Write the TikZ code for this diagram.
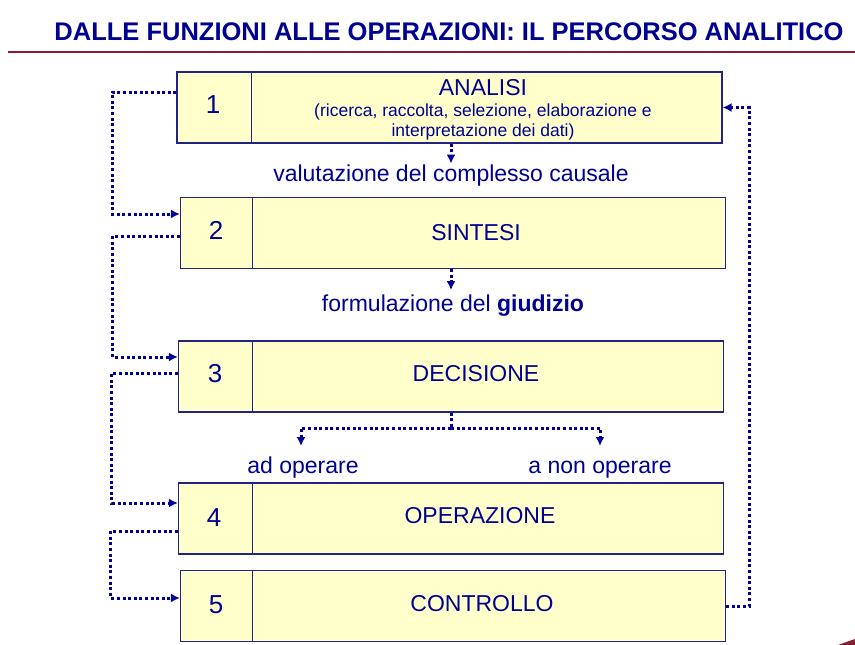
\documentclass[tikz,border=0pt]{standalone}
\usepackage{fontspec}
\setmainfont{Liberation Sans}
\usetikzlibrary{arrows.meta}
\usetikzlibrary{positioning}
\usetikzlibrary{calc}
\definecolor{navytext}{RGB}{0,0,145}
\definecolor{navyline}{RGB}{0,0,150}
\definecolor{boxedge}{RGB}{35,35,130}
\definecolor{boxfill}{RGB}{255,255,204}
\definecolor{titlered}{RGB}{140,28,50}
\begin{document}
\begin{tikzpicture}[x=1pt,y=-1pt]
		\tikzset{stepbox/.style = {shape=rectangle,draw=boxedge,fill=boxfill,line width=1.2pt,minimum width=545pt,minimum height=71pt,inner sep=0pt}}
		\tikzset{divider/.style = {draw=boxedge,line width=1.1pt}}
		\tikzset{numtext/.style = {text=navytext,anchor=base,inner sep=0pt,font=\fontsize{26}{30}\selectfont}}
		\tikzset{labtext/.style = {text=navytext,anchor=base,inner sep=0pt,font=\fontsize{23}{27}\selectfont}}
		\tikzset{flowline/.style = {draw=navyline,line width=3pt,dash pattern=on 3pt off 2.6pt}}
		\tikzset{flow/.style = {flowline,-{Latex[length=9pt,width=9pt]}}}
		\useasboundingbox (0,0) rectangle (855,645);
		% title
		\node[anchor=base,inner sep=0pt,text=navytext,font=\fontsize{25.5}{30}\selectfont\bfseries] (title) at (449,40) {DALLE FUNZIONI ALLE OPERAZIONI: IL PERCORSO ANALITICO};
		\draw[titlered,line width=2pt] (8,52) -- (855,52);
		\fill[titlered] (838,645) -- (855,639) -- (855,645) -- cycle;
		% boxes
		\node[stepbox] (b1) at (449.5,107.5) {};
		\node[stepbox] (b2) at (453,233) {};
		\node[stepbox] (b3) at (451,376.5) {};
		\node[stepbox] (b4) at (451,518.5) {};
		\node[stepbox] (b5) at (453,606) {};
		\foreach \b/\w in {b1/75,b2/73,b3/75,b4/75,b5/73}
			\draw[divider] ([xshift=\w pt]\b.north west) -- ([xshift=\w pt]\b.south west);
		% numbers
		\node[numtext] (n1) at (213,113) {1};
		\node[numtext] (n2) at (216,239) {2};
		\node[numtext] (n3) at (215,382) {3};
		\node[numtext] (n4) at (214,526) {4};
		\node[numtext] (n5) at (216,613) {5};
		% labels
		\node[labtext] (t1) at (483,95) {ANALISI};
		\node[labtext,font=\fontsize{17.5}{21}\selectfont] (t1a) at (483,116) {(ricerca, raccolta, selezione, elaborazione e};
		\node[labtext,font=\fontsize{17.5}{21}\selectfont] (t1b) at (483,136) {interpretazione dei dati)};
		\node[labtext] (t2) at (476,240) {SINTESI};
		\node[labtext] (t3) at (476,381) {DECISIONE};
		\node[labtext] (t4) at (480,523) {OPERAZIONE};
		\node[labtext] (t5) at (482,611) {CONTROLLO};
		\node[labtext] (v12) at (451,181) {valutazione del complesso causale};
		\node[labtext] (v23) at (453,311) {formulazione del \textbf{giudizio}};
		\node[labtext] (ad) at (303,473) {ad operare};
		\node[labtext] (non) at (600,473) {a non operare};
		\coordinate (fork) at (451,428);
		\coordinate (adtip) at (301,446);
		\coordinate (nontip) at (600,446);
		%edges
		\draw[flow] (b1.south -| fork) -- ++(0,20);
		\draw[flow] (b2.south -| fork) -- ++(0,21);
		\draw[flowline] (b3.south -| fork) -- (fork);
		\draw[flow] (fork) -| (adtip);
		\draw[flow] (fork) -| (nontip);
		\draw[flow] ([yshift=15.5pt]b1.west) -- ++(-64,0) |- ([yshift=19pt]b2.west);
		\draw[flow] ([yshift=-3pt]b2.west) -- ++(-67,0) |- ([yshift=19.5pt]b3.west);
		\draw[flow] ([yshift=3.5pt]b3.west) -- ++(-66,0) |- ([yshift=15.5pt]b4.west);
		\draw[flow] ([yshift=-12.5pt]b4.west) -- ++(-67,0) |- ([yshift=8pt]b5.west);
		\draw[flow] (b5.east) -- ++(23,0) |- (b1.east);
\end{tikzpicture}
\end{document}
